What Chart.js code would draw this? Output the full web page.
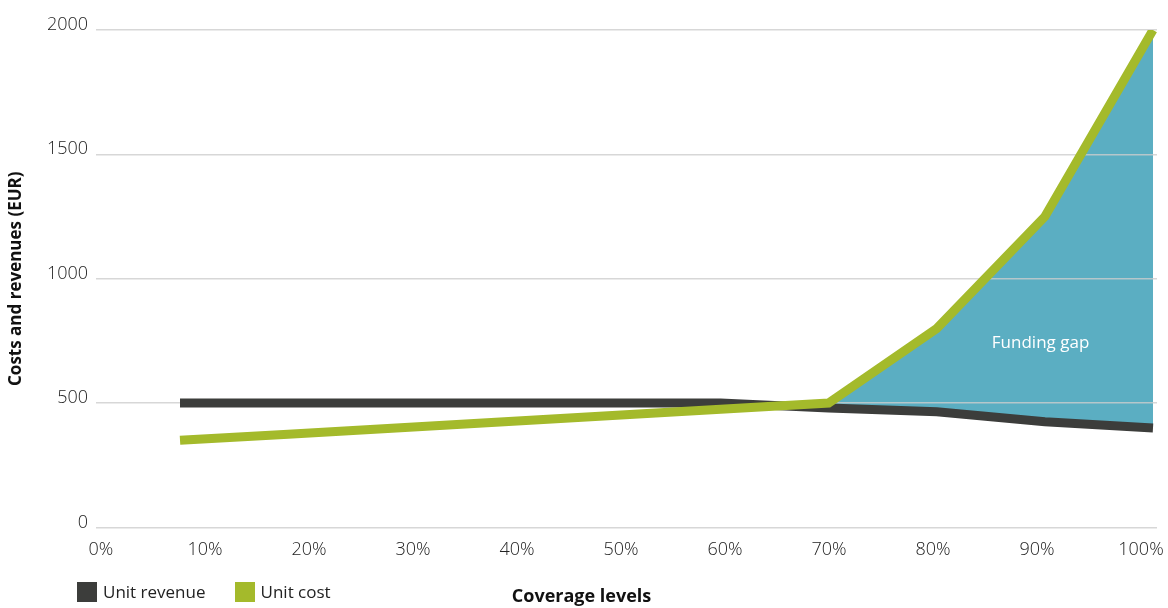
<!DOCTYPE html>
<html>
<head>
<meta charset="utf-8">
<title>Unit costs and revenues by coverage level</title>
<script src="https://cdn.jsdelivr.net/npm/chart.js@4.4.1/dist/chart.umd.min.js"></script>
<style>
  body { margin: 0; background: #fff; }
  .chart-wrap { position: relative; width: 1168px; height: 608px; }
  #legend {
    position: absolute; left: 77px; top: 582px;
    display: flex; font: 17px 'Open Sans', sans-serif; color: #222;
  }
  #legend .item { display: flex; align-items: center; margin-right: 29px; line-height: 20px; }
  #legend .swatch { width: 20px; height: 20px; margin-right: 6px; }
</style>
</head>
<body>
<div class="chart-wrap">
  <canvas id="costChart"></canvas>
  <div id="legend"></div>
</div>
<script>
// Coverage levels (%) and per-unit values in EUR
const coverage = [10, 20, 30, 40, 50, 60, 70, 80, 90, 100];
const unitRevenue = [500, 500, 500, 500, 500, 500, 480, 465, 425, 400];
const unitCost = [350, 375, 400, 425, 450, 475, 500, 800, 1250, 2000];

// Axis ticks
const xTickValues = [0, 10, 20, 30, 40, 50, 60, 70, 80, 90, 100];
const yTickValues = [0, 500, 1000, 1500, 2000];

const COLORS = {
  revenue: '#3c3d3b',
  cost: '#a4ba2b',
  gap: '#5baec2',
  grid: 'rgba(205, 205, 205, 0.8)',
  text: '#222'
};
const FONT = "'Open Sans', sans-serif";

const toPoints = values => values.map((v, i) => ({ x: coverage[i], y: v }));

// White caption inside the shaded gap
const gapLabel = {
  id: 'gapLabel',
  afterDatasetsDraw(chart) {
    const { ctx, scales } = chart;
    ctx.save();
    ctx.font = `17px ${FONT}`;
    ctx.fillStyle = '#fff';
    ctx.textAlign = 'center';
    ctx.textBaseline = 'middle';
    ctx.fillText('Funding gap', scales.x.getPixelForValue(89.6), scales.y.getPixelForValue(740));
    ctx.restore();
  }
};

const ctx = document.getElementById('costChart').getContext('2d');
const chart = new Chart(ctx, {
  type: 'line',
  data: {
    // cost first so it is drawn on top and can fill down to revenue (index 1)
    datasets: [
      {
        label: 'Unit cost',
        data: toPoints(unitCost),
        borderColor: COLORS.cost,
        backgroundColor: COLORS.cost,
        borderWidth: 9,
        fill: { target: 1, above: COLORS.gap, below: 'transparent' }
      },
      {
        label: 'Unit revenue',
        data: toPoints(unitRevenue),
        borderColor: COLORS.revenue,
        backgroundColor: COLORS.revenue,
        borderWidth: 9,
        fill: false
      }
    ]
  },
  options: {
    responsive: true,
    maintainAspectRatio: false,
    animation: false,
    layout: { padding: { top: 30, left: 6, right: 11, bottom: 0 } },
    elements: {
      point: { radius: 0, hoverRadius: 0 },
      line: { tension: 0, borderCapStyle: 'butt', borderJoinStyle: 'miter' }
    },
    scales: {
      // data axis (hidden) carries the line positions
      x: {
        type: 'linear',
        display: false,
        min: 2.23,
        max: 100.37
      },
      // label axis shows the coverage ticks
      xl: {
        type: 'linear',
        position: 'bottom',
        min: -0.48,
        max: 101.54,
        grid: { display: false, drawTicks: false },
        border: { display: false },
        afterBuildTicks(scale) {
          scale.ticks = xTickValues.map(v => ({ value: v }));
        },
        afterFit(scale) {
          scale.height = 55;
          scale.paddingLeft = 0;
          scale.paddingRight = 0;
        },
        ticks: {
          padding: 12,
          color: COLORS.text,
          font: { family: FONT, size: 18, weight: 300 },
          callback: v => v + '%'
        }
      },
      y: {
        min: 0,
        max: 2000,
        afterBuildTicks(scale) {
          scale.ticks = yTickValues.map(v => ({ value: v }));
        },
        afterFit(scale) { scale.width = 90; },
        grid: { color: COLORS.grid, lineWidth: 1.5, drawTicks: false },
        border: { display: false },
        ticks: {
          padding: 8,
          labelOffset: -5,
          color: COLORS.text,
          font: { family: FONT, size: 18, weight: 300 },
          callback: v => String(v)
        },
        title: {
          display: true,
          text: 'Costs and revenues (EUR)',
          color: '#111',
          font: { family: FONT, size: 17, weight: 'bold' },
          padding: { top: 0, bottom: 0 }
        }
      }
    },
    plugins: {
      legend: { display: false },
      tooltip: { enabled: false },
      // fill first, so the grid lines sit on top of the gap area
      filler: { drawTime: 'beforeDraw' },
      title: {
        display: true,
        position: 'bottom',
        text: 'Coverage levels',
        color: '#111',
        font: { family: FONT, size: 18, weight: 'bold' },
        padding: { top: 4, bottom: 0 }
      }
    }
  },
  plugins: [gapLabel]
});

// HTML legend built from the datasets, revenue listed first
const legendEl = document.getElementById('legend');
chart.data.datasets.slice().reverse().forEach(ds => {
  const item = document.createElement('div');
  item.className = 'item';
  item.innerHTML = `<span class="swatch" style="background:${ds.borderColor}"></span><span>${ds.label}</span>`;
  legendEl.appendChild(item);
});
</script>
</body>
</html>
